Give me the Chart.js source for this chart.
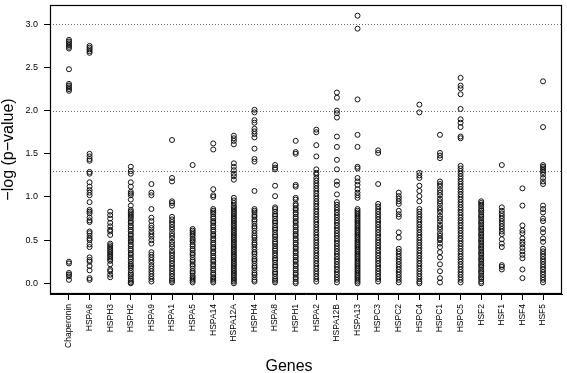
<!DOCTYPE html>
<html>
<head>
<meta charset="utf-8">
<script src="https://cdn.jsdelivr.net/npm/chart.js@4"></script>
<style>
  html, body { margin: 0; padding: 0; background: #fff; }
</style>
</head>
<body>
<canvas id="myChart" width="567" height="373"></canvas>
<script>
const genes = ['Chaperonin', 'HSPA6', 'HSPH3', 'HSPH2', 'HSPA9', 'HSPA1', 'HSPA5', 'HSPA14', 'HSPA12A', 'HSPH4', 'HSPA8', 'HSPH1',
    'HSPA2', 'HSPA12B', 'HSPA13', 'HSPC3', 'HSPC2', 'HSPC4', 'HSPC1', 'HSPC5', 'HSF2', 'HSF1', 'HSF4', 'HSF5'];

// -log(p-value) per gene
const chaperonin = [2.82, 2.80, 2.78, 2.76, 2.74, 2.72, 2.48, 2.31, 2.29, 2.27, 2.25, 2.23, 0.25, 0.23, 0.12, 0.10, 0.08, 0.04];
const hspa6 = [2.75, 2.73, 2.71, 2.69, 2.67, 1.50, 1.47, 1.44, 1.42, 1.29, 1.27, 1.17, 1.12, 1.08, 1.05, 1.02, 0.94, 0.85, 0.83, 0.81,
    0.76, 0.73, 0.71, 0.60, 0.58, 0.55, 0.52, 0.50, 0.45, 0.42, 0.30, 0.27, 0.25, 0.20, 0.15, 0.06, 0.04];
const hsph3 = [0.83, 0.79, 0.75, 0.70, 0.66, 0.62, 0.60, 0.56, 0.46, 0.44, 0.42, 0.40, 0.38, 0.36, 0.34, 0.32, 0.30, 0.28, 0.26, 0.22,
    0.16, 0.14, 0.10, 0.07];
const hsph2 = [1.35, 1.30, 1.27, 1.17, 1.12, 1.06, 1.04, 1.02, 0.97, 0.90, 0.85, 0.83, 0.81, 0.79, 0.77, 0.75, 0.72, 0.70, 0.67, 0.65,
    0.62, 0.60, 0.57, 0.55, 0.52, 0.50, 0.48, 0.45, 0.43, 0.40, 0.38, 0.35, 0.33, 0.30, 0.28, 0.25, 0.22, 0.20, 0.18, 0.15,
    0.12, 0.10, 0.08, 0.05, 0.03, 0.01, 0.00];
const hspa9 = [1.15, 1.05, 1.02, 0.86, 0.76, 0.72, 0.67, 0.64, 0.60, 0.57, 0.54, 0.50, 0.46, 0.36, 0.33, 0.30, 0.27, 0.24, 0.20, 0.17,
    0.14, 0.11, 0.08, 0.05, 0.02];
const hspa1 = [1.66, 1.22, 1.18, 0.95, 0.93, 0.90, 0.77, 0.74, 0.71, 0.68, 0.65, 0.62, 0.58, 0.55, 0.52, 0.48, 0.45, 0.42, 0.38, 0.35,
    0.32, 0.29, 0.26, 0.23, 0.20, 0.17, 0.14, 0.11, 0.08, 0.05, 0.03, 0.01];
const hspa5 = [1.37, 0.63, 0.61, 0.59, 0.57, 0.55, 0.52, 0.50, 0.48, 0.45, 0.43, 0.40, 0.38, 0.35, 0.33, 0.30, 0.27, 0.25, 0.22, 0.20,
    0.17, 0.14, 0.12, 0.09, 0.07, 0.05, 0.03, 0.01];
const hspa14 = [1.62, 1.55, 1.09, 1.02, 1.00, 0.86, 0.84, 0.82, 0.80, 0.77, 0.75, 0.72, 0.70, 0.67, 0.65, 0.62, 0.60, 0.57, 0.55, 0.52,
    0.50, 0.47, 0.45, 0.42, 0.40, 0.37, 0.35, 0.32, 0.30, 0.27, 0.25, 0.22, 0.20, 0.17, 0.15, 0.12, 0.10, 0.07, 0.05, 0.03, 0.01];
const hspa12a = [1.71, 1.68, 1.65, 1.61, 1.39, 1.35, 1.31, 1.27, 1.24, 1.20, 0.99, 0.96, 0.93, 0.90, 0.88, 0.86, 0.84, 0.82, 0.80, 0.78,
    0.76, 0.74, 0.72, 0.70, 0.68, 0.66, 0.64, 0.62, 0.60, 0.58, 0.56, 0.54, 0.52, 0.50, 0.48, 0.46, 0.44, 0.42, 0.40, 0.38,
    0.36, 0.34, 0.32, 0.30, 0.28, 0.26, 0.24, 0.22, 0.20, 0.18, 0.16, 0.14, 0.12, 0.10, 0.08, 0.06, 0.04, 0.02, 0.00];
const hsph4 = [2.01, 1.98, 1.89, 1.86, 1.79, 1.76, 1.73, 1.69, 1.56, 1.44, 1.41, 1.07, 0.86, 0.84, 0.82, 0.79, 0.77, 0.74, 0.72, 0.69,
    0.66, 0.64, 0.61, 0.58, 0.55, 0.53, 0.50, 0.47, 0.45, 0.42, 0.39, 0.36, 0.34, 0.31, 0.28, 0.26, 0.23, 0.20, 0.18, 0.15,
    0.12, 0.10, 0.07, 0.04, 0.02];
const hspa8 = [1.37, 1.34, 1.32, 1.13, 1.01, 0.88, 0.86, 0.83, 0.80, 0.78, 0.75, 0.72, 0.70, 0.67, 0.64, 0.62, 0.59, 0.56, 0.54, 0.51,
    0.48, 0.46, 0.43, 0.40, 0.38, 0.35, 0.32, 0.29, 0.27, 0.24, 0.21, 0.19, 0.16, 0.13, 0.11, 0.08, 0.05, 0.03, 0.01];
const hsph1 = [1.65, 1.52, 1.50, 1.14, 1.12, 0.99, 0.97, 0.92, 0.90, 0.87, 0.85, 0.82, 0.80, 0.77, 0.75, 0.72, 0.70, 0.67, 0.65, 0.62,
    0.60, 0.57, 0.55, 0.52, 0.50, 0.47, 0.45, 0.42, 0.40, 0.37, 0.35, 0.32, 0.30, 0.27, 0.25, 0.22, 0.20, 0.17, 0.15, 0.12,
    0.10, 0.07, 0.05, 0.02, 0.00];
const hspa2 = [1.78, 1.75, 1.60, 1.47, 1.32, 1.28, 1.26, 1.22, 1.19, 1.16, 1.13, 1.10, 1.07, 1.04, 1.01, 0.98, 0.95, 0.92, 0.89, 0.86,
    0.83, 0.80, 0.77, 0.74, 0.71, 0.68, 0.65, 0.62, 0.59, 0.56, 0.53, 0.50, 0.47, 0.44, 0.41, 0.38, 0.35, 0.32, 0.29, 0.26,
    0.23, 0.20, 0.17, 0.14, 0.11, 0.08, 0.05, 0.02];
const hspa12b = [2.21, 2.15, 2.00, 1.97, 1.92, 1.70, 1.58, 1.43, 1.32, 1.18, 1.14, 1.03, 0.94, 0.91, 0.88, 0.85, 0.82, 0.79, 0.76, 0.73,
    0.70, 0.67, 0.64, 0.61, 0.58, 0.55, 0.52, 0.49, 0.46, 0.43, 0.40, 0.37, 0.34, 0.31, 0.28, 0.25, 0.22, 0.19, 0.16, 0.13,
    0.10, 0.07, 0.04, 0.01];
const hspa13 = [3.10, 2.95, 2.13, 1.72, 1.58, 1.35, 1.33, 1.22, 1.18, 1.14, 1.09, 1.05, 1.02, 0.99, 0.86, 0.84, 0.82, 0.80, 0.78, 0.76,
    0.74, 0.72, 0.70, 0.68, 0.66, 0.64, 0.62, 0.60, 0.58, 0.56, 0.54, 0.52, 0.50, 0.48, 0.46, 0.44, 0.42, 0.40, 0.38, 0.36,
    0.34, 0.32, 0.30, 0.28, 0.26, 0.24, 0.22, 0.20, 0.18, 0.16, 0.14, 0.12, 0.10, 0.08, 0.06, 0.04, 0.02, 0.00];
const hspc3 = [1.54, 1.51, 1.15, 0.92, 0.89, 0.86, 0.83, 0.80, 0.77, 0.74, 0.71, 0.68, 0.65, 0.62, 0.59, 0.56, 0.53, 0.50, 0.47, 0.44,
    0.41, 0.38, 0.35, 0.32, 0.29, 0.26, 0.23, 0.20, 0.17, 0.14, 0.11, 0.08, 0.05, 0.02];
const hspc2 = [1.05, 1.01, 0.98, 0.95, 0.92, 0.84, 0.80, 0.77, 0.59, 0.53, 0.40, 0.37, 0.34, 0.31, 0.28, 0.25, 0.22, 0.19, 0.16, 0.13,
    0.10, 0.07, 0.04, 0.01];
const hspc4 = [2.07, 1.98, 1.28, 1.25, 1.22, 1.13, 1.07, 1.01, 0.95, 0.86, 0.83, 0.80, 0.77, 0.74, 0.71, 0.68, 0.65, 0.62, 0.59, 0.56,
    0.53, 0.50, 0.47, 0.44, 0.41, 0.38, 0.35, 0.32, 0.29, 0.26, 0.23, 0.20, 0.17, 0.14, 0.11, 0.08, 0.05, 0.02, 0.00];
const hspc1 = [1.72, 1.51, 1.48, 1.45, 1.18, 1.15, 1.12, 1.08, 1.05, 1.02, 0.98, 0.95, 0.92, 0.88, 0.85, 0.82, 0.78, 0.75, 0.72, 0.68,
    0.65, 0.62, 0.58, 0.55, 0.52, 0.50, 0.46, 0.42, 0.36, 0.30, 0.22, 0.14, 0.06, 0.01];
const hspc5 = [2.38, 2.29, 2.26, 2.19, 2.02, 1.90, 1.86, 1.81, 1.70, 1.68, 1.36, 1.33, 1.30, 1.27, 1.24, 1.21, 1.18, 1.15, 1.12, 1.09,
    1.06, 1.03, 1.00, 0.97, 0.94, 0.91, 0.88, 0.85, 0.82, 0.79, 0.76, 0.73, 0.70, 0.67, 0.64, 0.61, 0.58, 0.55, 0.52, 0.49,
    0.46, 0.43, 0.40, 0.37, 0.34, 0.31, 0.28, 0.25, 0.22, 0.19, 0.16, 0.13, 0.10, 0.07, 0.04, 0.01];
const hsf2 = [0.95, 0.93, 0.91, 0.89, 0.86, 0.84, 0.82, 0.79, 0.77, 0.75, 0.72, 0.70, 0.68, 0.65, 0.63, 0.61, 0.58, 0.56, 0.54, 0.51,
    0.49, 0.47, 0.44, 0.42, 0.40, 0.37, 0.35, 0.33, 0.30, 0.28, 0.26, 0.23, 0.21, 0.19, 0.16, 0.14, 0.12, 0.09, 0.07, 0.05,
    0.02, 0.00];
const hsf1 = [1.37, 0.88, 0.84, 0.81, 0.78, 0.75, 0.72, 0.69, 0.66, 0.63, 0.60, 0.57, 0.51, 0.46, 0.42, 0.21, 0.19, 0.16];
const hsf4 = [1.10, 0.90, 0.67, 0.61, 0.58, 0.52, 0.48, 0.45, 0.41, 0.37, 0.33, 0.29, 0.16, 0.06];
const hsf5 = [2.34, 1.81, 1.37, 1.35, 1.33, 1.31, 1.29, 1.26, 1.22, 1.18, 1.15, 0.90, 0.86, 0.82, 0.75, 0.72, 0.63, 0.59, 0.52, 0.48,
    0.40, 0.37, 0.34, 0.31, 0.28, 0.25, 0.22, 0.19, 0.16, 0.13, 0.10, 0.07, 0.04, 0.01];

const series = [chaperonin, hspa6, hsph3, hsph2, hspa9, hspa1, hspa5, hspa14, hspa12a, hsph4, hspa8, hsph1,
    hspa2, hspa12b, hspa13, hspc3, hspc2, hspc4, hspc1, hspc5, hsf2, hsf1, hsf4, hsf5];

const yTicks = [0, 0.5, 1, 1.5, 2, 2.5, 3];
const cutoffs = [1.3, 2, 3];

let points = [];
series.forEach((vals, i) => {
    vals.forEach(v => points.push({ x: i + 1, y: v }));
});

// dotted cut-off lines, plot box and the x title
const extras = {
    id: 'extras',
    beforeDatasetsDraw(chart) {
        const ctx = chart.ctx;
        const area = chart.chartArea;
        const yScale = chart.scales.y;
        ctx.save();
        ctx.strokeStyle = '#6a6a6a';
        ctx.lineWidth = 1;
        ctx.setLineDash([1, 2]);
        cutoffs.forEach(c => {
            const py = Math.round(yScale.getPixelForValue(c)) + 0.5;
            ctx.beginPath();
            ctx.moveTo(area.left, py);
            ctx.lineTo(area.right, py);
            ctx.stroke();
        });
        ctx.restore();
    },
    afterDraw(chart) {
        const ctx = chart.ctx;
        const area = chart.chartArea;
        ctx.save();
        ctx.strokeStyle = '#000';
        ctx.lineWidth = 1.2;
        ctx.strokeRect(area.left + 0.5, area.top + 0.5, area.right - area.left - 1, area.bottom - area.top - 1);
        ctx.fillStyle = '#000';
        ctx.font = '16px "Liberation Sans", Arial, sans-serif';
        ctx.textAlign = 'center';
        ctx.textBaseline = 'alphabetic';
        ctx.fillText('Genes', 289, 371);
        ctx.restore();
    }
};

const ctx = document.getElementById('myChart').getContext('2d');
const myChart = new Chart(ctx, {
    type: 'scatter',
    data: {
        datasets: [{
            data: points,
            pointRadius: 2.5,
            pointBorderWidth: 1,
            pointBorderColor: '#111',
            pointBackgroundColor: 'rgba(0,0,0,0)',
            showLine: false
        }]
    },
    options: {
        responsive: false,
        animation: false,
        layout: { padding: { top: 1, right: 1, left: 0, bottom: 0 } },
        plugins: {
            legend: { display: false },
            tooltip: { enabled: false }
        },
        scales: {
            x: {
                type: 'linear',
                min: 0.08,
                max: 24.92,
                afterBuildTicks: scale => {
                    scale.ticks = genes.map((g, i) => ({ value: i + 1 }));
                },
                afterFit: scale => {
                    scale.height = 79;
                    scale.paddingLeft = 0;
                    scale.paddingRight = 0;
                },
                ticks: {
                    autoSkip: false,
                    minRotation: 90,
                    maxRotation: 90,
                    padding: 4,
                    color: '#000',
                    font: { family: '"Liberation Sans", Arial, sans-serif', size: 8.5 },
                    callback: value => genes[value - 1]
                },
                grid: { drawOnChartArea: false, tickLength: 6, color: '#000' },
                border: { display: true, color: '#000' }
            },
            y: {
                min: -0.124,
                max: 3.224,
                afterBuildTicks: scale => {
                    scale.ticks = yTicks.map(v => ({ value: v }));
                },
                afterFit: scale => {
                    scale.width = 50;
                    scale.paddingTop = 0;
                    scale.paddingBottom = 0;
                },
                ticks: {
                    padding: 6,
                    color: '#000',
                    font: { family: '"Liberation Sans", Arial, sans-serif', size: 9 },
                    callback: value => value.toFixed(1)
                },
                grid: { drawOnChartArea: false, tickLength: 6, color: '#000' },
                border: { display: true, color: '#000' },
                title: {
                    display: true,
                    text: '\u2212log (p\u2212value)',
                    color: '#000',
                    padding: 0,
                    font: { family: '"Liberation Sans", Arial, sans-serif', size: 16, lineHeight: 1.1 }
                }
            }
        }
    },
    plugins: [extras]
});
</script>
</body>
</html>
